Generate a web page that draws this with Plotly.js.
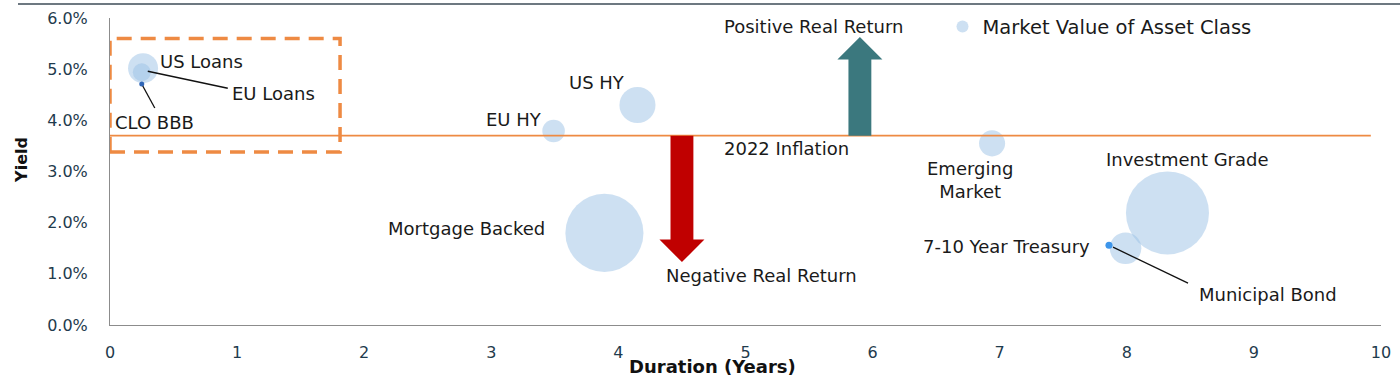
<!DOCTYPE html>
<html>
<head>
<meta charset="utf-8">
<script src="https://cdn.plot.ly/plotly-3.0.1.min.js"></script>
<style>html,body{margin:0;padding:0;background:#fff;}#chart{width:1400px;height:376px;}</style>
</head>
<body>
<div id="chart"></div>
<script>
// ---- data ----
var assetNames   = ["US Loans", "EU Loans", "EU HY", "US HY", "Mortgage Backed", "Emerging Market", "Investment Grade", "Municipal Bond"];
var duration     = [0.26, 0.25, 3.49, 4.15, 3.89, 6.94, 8.32, 7.99];
var yieldPct     = [5.02, 4.94, 3.79, 4.30, 1.80, 3.55, 2.19, 1.50];
var marketValue  = [900, 320, 510, 1300, 6100, 680, 6900, 1000];

var dotNames     = ["CLO BBB", "7-10 Year Treasury"];
var dotDuration  = [0.25, 7.86];
var dotYield     = [4.71, 1.56];
var dotValue     = [25, 50];

var inflation2022 = 3.7;
var xTickVals = [0,1,2,3,4,5,6,7,8,9,10];
var yTickVals = [0,1,2,3,4,5,6];
var yTickText = yTickVals.map(function(v){ return v.toFixed(1) + "%"; });

// ---- styles / positions ----
var FONT = "DejaVu Sans, sans-serif";
var FS = 18;
var TXT = "#1a1a1a";
var TICK = "#1f3b4d";
var ORANGE = "#ee8a43";

var traces = [
  {
    type: "scatter", mode: "markers", name: "Market Value of Asset Class",
    x: duration, y: yieldPct, text: assetNames,
    marker: {size: marketValue, sizemode: "area", sizeref: 2, opacity: 1, color: "rgba(155,193,229,0.5)", line: {width: 0}},
    cliponaxis: false, hoverinfo: "text"
  },
  {
    type: "scatter", mode: "markers", name: "dots", showlegend: false,
    x: dotDuration, y: dotYield, text: dotNames,
    marker: {size: dotValue, sizemode: "area", sizeref: 2, opacity: 1, color: ["#2f66b8", "#3d95ea"], line: {width: 0}},
    cliponaxis: false, hoverinfo: "text"
  }
];

function idx(name){ return assetNames.indexOf(name); }
function didx(name){ return dotNames.indexOf(name); }

// label offsets (pixels) relative to each point
var labelOffsets = {
  "US Loans": [58, 7], "EU Loans": [132, -21], "EU HY": [-40, 12], "US HY": [-40, 22],
  "Mortgage Backed": [-138, 4], "Emerging Market": [-22, -37], "Investment Grade": [20, 53],
  "Municipal Bond": [142, -46]
};
var dotLabelOffsets = {"CLO BBB": [13, -38], "7-10 Year Treasury": [-103, -1]};

var annotations = [];
assetNames.forEach(function(n, i){
  var o = labelOffsets[n];
  annotations.push({x: duration[i], y: yieldPct[i], xref: "x", yref: "y", showarrow: false,
    text: n === "Emerging Market" ? "Emerging<br>Market" : n, xshift: o[0], yshift: o[1],
    font: {family: FONT, size: FS, color: TXT}, align: "center"});
});
dotNames.forEach(function(n, i){
  var o = dotLabelOffsets[n];
  annotations.push({x: dotDuration[i], y: dotYield[i], xref: "x", yref: "y", showarrow: false,
    text: n, xshift: o[0], yshift: o[1], font: {family: FONT, size: FS, color: TXT}});
});

// arrows
var arrowShaftHalf = 0.09, arrowHeadHalf = 0.177, arrowHeadLen = 0.44;
var posArrow = {cx: 5.90, tip: 5.63, color: "#3b787e"};
var negArrow = {cx: 4.50, tip: 1.23, color: "#c00000"};
function arrowPath(cx, base, tip){
  var dir = tip > base ? 1 : -1;
  var hb = tip - dir * arrowHeadLen;
  var p = [[cx - arrowShaftHalf, base], [cx - arrowShaftHalf, hb], [cx - arrowHeadHalf, hb], [cx, tip],
           [cx + arrowHeadHalf, hb], [cx + arrowShaftHalf, hb], [cx + arrowShaftHalf, base]];
  return "M" + p.map(function(q){ return q[0] + "," + q[1]; }).join(" L") + " Z";
}

annotations.push({x: 5.32, y: inflation2022, xref: "x", yref: "y", yshift: -13, showarrow: false,
  text: "2022 Inflation", font: {family: FONT, size: FS, color: TXT}});
annotations.push({x: negArrow.cx, y: negArrow.tip, xref: "x", yref: "y", xshift: 80, yshift: -13, showarrow: false,
  text: "Negative Real Return", font: {family: FONT, size: FS, color: TXT}});
annotations.push({x: posArrow.cx, y: posArrow.tip, xref: "x", yref: "y", xshift: -46.5, yshift: 10, showarrow: false,
  text: "Positive Real Return", font: {family: FONT, size: FS, color: TXT}});
// axis titles
annotations.push({x: -0.0692, y: 0.538, xref: "paper", yref: "paper", xanchor: "center", yanchor: "middle", showarrow: false, textangle: -90,
  text: "<b>Yield</b>", font: {family: FONT, size: 16, color: "#111"}});
annotations.push({x: 0.4744, y: -0.135, xref: "paper", yref: "paper", xanchor: "center", yanchor: "middle", showarrow: false,
  text: "<b>Duration (Years)</b>", font: {family: FONT, size: 18, color: "#111"}});

function leader(x, y, dx0, dy0, dx1, dy1){
  return {type: "line", xref: "x", yref: "y", xsizemode: "pixel", ysizemode: "pixel",
    xanchor: x, yanchor: y, x0: dx0, y0: dy0, x1: dx1, y1: dy1, line: {color: "#111", width: 1.3}};
}

var shapes = [
  // top rule
  {type: "line", xref: "paper", yref: "paper", x0: -0.0724, x1: 1.02, y0: 1.0456, y1: 1.0456, line: {color: "#3c4b57", width: 1.5}},
  // inflation line
  {type: "line", xref: "x", yref: "y", x0: 0, x1: 9.92, y0: inflation2022, y1: inflation2022, line: {color: ORANGE, width: 1.8}},
  // highlight box
  {type: "rect", xref: "x", yref: "y", x0: 0.0, x1: 1.81, y0: 3.38, y1: 5.6, line: {color: ORANGE, width: 3.5, dash: "15px,9px"}, fillcolor: "rgba(0,0,0,0)"},
  // arrows
  {type: "path", xref: "x", yref: "y", path: arrowPath(posArrow.cx, inflation2022, posArrow.tip), fillcolor: posArrow.color, line: {width: 0}},
  {type: "path", xref: "x", yref: "y", path: arrowPath(negArrow.cx, inflation2022, negArrow.tip), fillcolor: negArrow.color, line: {width: 0}},
  // leader lines
  leader(duration[idx("EU Loans")], yieldPct[idx("EU Loans")], 6, 1, 86, -16),
  leader(dotDuration[didx("CLO BBB")], dotYield[didx("CLO BBB")], 1, -2, 13, -24),
  leader(dotDuration[didx("7-10 Year Treasury")], dotYield[didx("7-10 Year Treasury")], 4, -2, 79, -38)
];

var layout = {
  width: 1400, height: 376,
  margin: {l: 110, r: 19, t: 18, b: 51, autoexpand: false},
  paper_bgcolor: "#fff", plot_bgcolor: "#fff",
  font: {family: FONT, size: FS, color: TXT},
  showlegend: true,
  legend: {orientation: "h", x: 0.655, y: 0.971, xanchor: "left", yanchor: "middle", bgcolor: "rgba(0,0,0,0)",
    itemsizing: "constant", font: {family: FONT, size: 19.5, color: TXT}},
  xaxis: {range: [0, 10], tickvals: xTickVals, showgrid: false, zeroline: false, showline: true, linecolor: "#8c8c8c", linewidth: 1,
    ticks: "", ticklabelstandoff: 13, tickfont: {family: FONT, size: 16, color: TICK}},
  yaxis: {range: [0, 6], tickvals: yTickVals, ticktext: yTickText, showgrid: false, zeroline: false, showline: true,
    linecolor: "#8c8c8c", linewidth: 1, ticks: "", ticklabelstandoff: 18, tickfont: {family: FONT, size: 16, color: TICK}},
  shapes: shapes,
  annotations: annotations,
  hovermode: false
};

Plotly.newPlot("chart", traces, layout, {displayModeBar: false, staticPlot: true});
</script>
</body>
</html>
